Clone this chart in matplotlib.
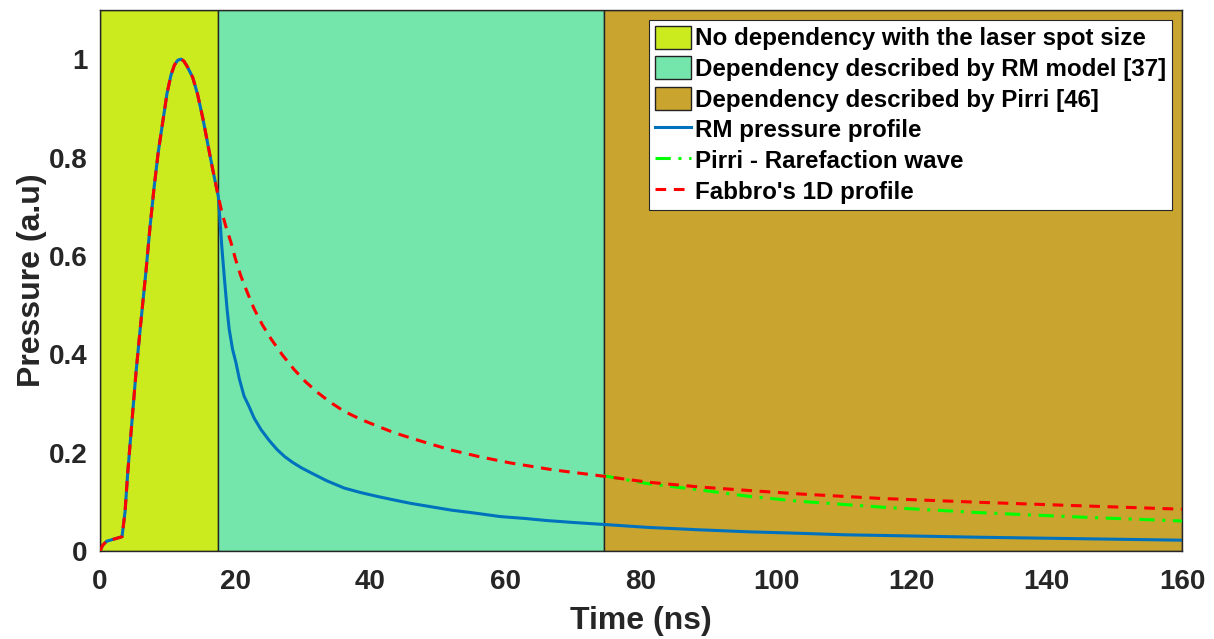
import numpy as np
import matplotlib; matplotlib.use("Agg"); import matplotlib.pyplot as plt
from matplotlib.patches import Patch
from matplotlib.lines import Line2D

plt.rcParams['font.family'] = ['Liberation Sans', 'DejaVu Sans']
plt.rcParams['font.weight'] = 'bold'
plt.rcParams['axes.labelweight'] = 'bold'

# regions (ns)
regions = [(0, 17.5), (17.5, 74.5), (74.5, 160)]
region_colors = ["#CBEB1F", "#75E6AB", "#C9A42F"]
region_labels = ["No dependency with the laser spot size",
                 "Dependency described by RM model [37]",
                 "Dependency described by Pirri [46]"]

# common rising part (shared by RM and Fabbro)
t_rise = [0, 0.4, 1.0, 2.0, 3.25, 3.7, 4.1, 4.7, 5.3, 6.0, 6.8, 7.4, 8.0, 8.6, 9.25, 9.9, 10.5, 11.0, 11.5,
          12.0, 12.4, 12.9, 13.7, 14.4, 15.2, 15.9, 16.6, 17.5]
p_rise = [0, 0.012, 0.02, 0.024, 0.029, 0.08, 0.16, 0.26, 0.36, 0.46, 0.57, 0.66, 0.74, 0.81, 0.87, 0.93,
          0.968, 0.988, 0.998, 1.0, 0.996, 0.985, 0.963, 0.93, 0.88, 0.83, 0.78, 0.72]

# RM pressure profile decay
t_rm = [17.7, 18.0, 18.4, 18.8, 19.1, 19.6, 20.1, 20.6, 21.3, 22.0, 22.8, 23.8, 25.0, 26.2, 27.3, 28.5,
        29.8, 31.2, 33.5, 36.1, 38.5, 41.0, 43.4, 45.9, 48.5, 52.0, 55.5, 59.2, 63.0, 66.0, 70.0, 74.5,
        81.0, 88.8, 96.0, 103.5, 110.0, 118.3, 130.0, 145.0, 160.0]
p_rm = [0.68, 0.62, 0.553, 0.49, 0.451, 0.41, 0.383, 0.35, 0.315, 0.295, 0.27, 0.247, 0.225, 0.206,
        0.192, 0.18, 0.169, 0.159, 0.143, 0.128, 0.119, 0.111, 0.104, 0.097, 0.091, 0.083, 0.077, 0.07,
        0.066, 0.062, 0.058, 0.054, 0.048, 0.043, 0.039, 0.036, 0.033, 0.031, 0.028, 0.025, 0.022]

# Fabbro's 1D profile decay
t_fab = [18.0, 18.6, 19.35, 20.0, 20.8, 21.8, 22.8, 24.0, 25.3, 27.0, 28.7, 30.4, 32.2, 34.1, 36.1,
         38.5, 41.0, 43.4, 45.9, 49.0, 52.0, 56.0, 60.7, 67.0, 74.5, 81.0, 88.8, 96.0, 103.5, 115.3,
         130.1, 144.9, 160.0]
p_fab = [0.69, 0.66, 0.628, 0.595, 0.56, 0.525, 0.492, 0.46, 0.431, 0.398, 0.369, 0.344, 0.322, 0.302,
         0.284, 0.268, 0.254, 0.241, 0.23, 0.217, 0.205, 0.192, 0.179, 0.165, 0.152, 0.14, 0.13, 0.123,
         0.116, 0.107, 0.099, 0.092, 0.085]

# Pirri - rarefaction wave
t_pirri = [74.5, 81.0, 88.8, 96.0, 103.5, 115.8, 130.1, 144.9, 160.0]
p_pirri = [0.153, 0.137, 0.124, 0.111, 0.101, 0.089, 0.078, 0.069, 0.061]

fig = plt.figure(figsize=(12.14, 6.39), dpi=100)
ax = fig.add_axes([0.0824, 0.1377, 0.8912, 0.8467])

for (a, b), c in zip(regions, region_colors):
    ax.axvspan(a, b, facecolor=c, edgecolor="#222222", lw=1.0, zorder=0)

blue = "#0072BD"
dashdot = (0, (5, 2.5, 1, 2.5)); dashed = (0, (3.5, 2.5))
ax.plot(t_rise + t_rm, p_rise + p_rm, color=blue, lw=2.2, zorder=2)
ax.plot(t_pirri, p_pirri, color="#00FF00", lw=2.2, ls=dashdot, zorder=3)
ax.plot(t_rise + t_fab, p_rise + p_fab, color="#FF0000", lw=2.2, ls=dashed, zorder=4)

ax.set_xlim(0, 160); ax.set_ylim(0, 1.1)
ax.set_xticks(np.arange(0, 161, 20)); ax.set_yticks([0, 0.2, 0.4, 0.6, 0.8, 1])
ax.set_yticklabels(["0", "0.2", "0.4", "0.6", "0.8", "1"])
ax.tick_params(length=0, labelsize=20, colors="#262626")
ax.tick_params(axis="x", pad=13); ax.tick_params(axis="y", pad=9)
for s in ax.spines.values():
    s.set_color("#262626"); s.set_linewidth(1.0)
ax.set_xlabel("Time (ns)", fontsize=23, color="#262626", labelpad=8)
ax.set_ylabel("Pressure (a.u)", fontsize=23, color="#262626", labelpad=1)

handles = [Patch(facecolor=c, edgecolor="#222222", lw=1.0) for c in region_colors]
handles += [Line2D([], [], color=blue, lw=2.2),
            Line2D([], [], color="#00FF00", lw=2.2, ls=dashdot),
            Line2D([], [], color="#FF0000", lw=2.2, ls=dashed)]
labels = region_labels + ["RM pressure profile", "Pirri - Rarefaction wave", "Fabbro's 1D profile"]
leg = ax.legend(handles, labels, loc="upper right", fontsize=17.4, frameon=True, fancybox=False,
                framealpha=1, edgecolor="#262626", handlelength=1.5, handleheight=1.1, handletextpad=0.15,
                labelspacing=0.24, borderpad=0.25, borderaxespad=0.4)
leg.get_frame().set_linewidth(0.8)

fig.savefig("out.png", dpi=100)
